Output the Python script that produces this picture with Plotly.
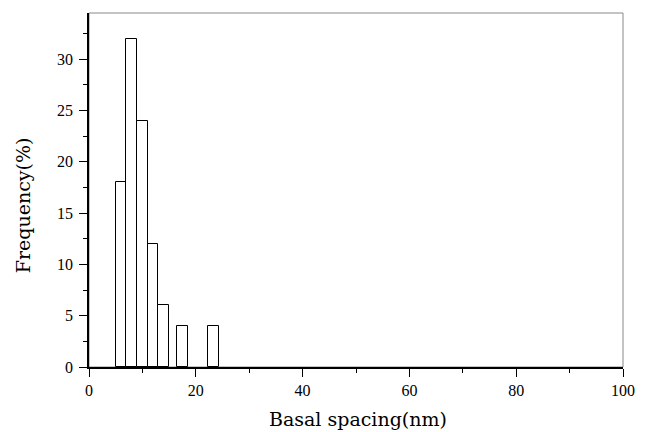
import plotly.graph_objects as go

# Data
bin_centers = [6, 8, 10, 12, 14, 17.5, 23.3]
frequency = [18, 32, 24, 12, 6, 4, 4]
bin_width = 2

x_ticks = [0, 20, 40, 60, 80, 100]
y_ticks = [0, 5, 10, 15, 20, 25, 30]

x_title = "Basal spacing(nm)"
y_title = "Frequency(%)"

tick_font = "Liberation Serif, Times New Roman, serif"
title_font = "DejaVu Serif, Liberation Serif, serif"

fig = go.Figure()
fig.add_trace(go.Bar(
    x=bin_centers,
    y=frequency,
    width=[bin_width] * len(bin_centers),
    marker=dict(color="white", line=dict(color="black", width=1)),
    showlegend=False,
))

# Thin grey frame (top/right borders)
fig.add_shape(type="rect", xref="paper", yref="paper", x0=0, y0=0, x1=1, y1=1,
              line=dict(color="#888888", width=1), layer="below")

# Axis titles as annotations (placed like the reference)
fig.add_annotation(text=x_title, xref="paper", yref="paper", x=0.503, y=-0.147,
                   xanchor="center", yanchor="middle", showarrow=False,
                   font=dict(family=title_font, size=19, color="black"))
fig.add_annotation(text=y_title, xref="paper", yref="paper", x=-0.123, y=0.458,
                   xanchor="center", yanchor="middle", showarrow=False, textangle=-90,
                   font=dict(family=title_font, size=19, color="black"))

fig.update_layout(
    width=647, height=432,
    margin=dict(l=89, r=13, t=13, b=65),
    paper_bgcolor="white", plot_bgcolor="white",
    font=dict(family=tick_font, color="black", size=16),
    bargap=0,
    xaxis=dict(
        range=[0, 100],
        tickmode="array", tickvals=x_ticks, ticktext=[str(v) for v in x_ticks],
        ticks="outside", ticklen=8, tickwidth=1.3, tickcolor="black",
        minor=dict(dtick=10, tick0=0, ticks="outside", ticklen=4, tickcolor="black", showgrid=False),
        showline=True, linecolor="black", linewidth=1.6,
        showgrid=False, zeroline=False,
        tickfont=dict(size=16, family=tick_font, color="black"),
    ),
    yaxis=dict(
        range=[0, 34.5],
        tickmode="array", tickvals=y_ticks, ticktext=[str(v) for v in y_ticks],
        ticks="outside", ticklen=8, tickwidth=1.3, tickcolor="black",
        ticklabelstandoff=3,
        minor=dict(dtick=2.5, tick0=0, ticks="outside", ticklen=4, tickcolor="black", showgrid=False),
        showline=True, linecolor="black", linewidth=1.6,
        showgrid=False, zeroline=False,
        tickfont=dict(size=16, family=tick_font, color="black"),
    ),
)

fig.write_html("out.html")
